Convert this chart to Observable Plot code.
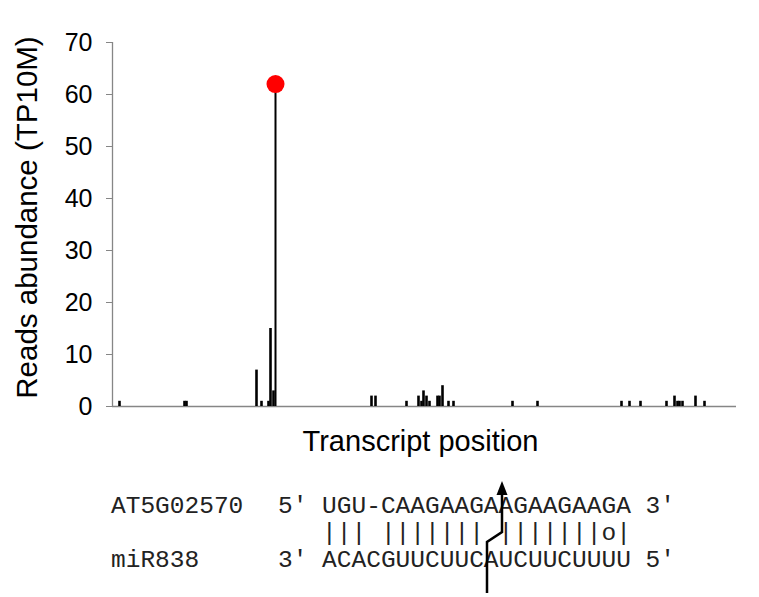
<!DOCTYPE html>
<html><head><meta charset="utf-8">
<script src="https://cdn.jsdelivr.net/npm/d3@7"></script>
<script src="https://cdn.jsdelivr.net/npm/@observablehq/plot@0.6"></script>
<style>
body{margin:0;background:#fff;}
#wrap{position:relative;width:759px;height:597px;overflow:hidden;font-family:Arial,"Liberation Sans",sans-serif;}
#chart{position:absolute;left:0;top:0;}
#align{position:absolute;left:0;top:0;}
</style></head><body>
<div id="wrap"><div id="chart"></div><svg id="align" width="759" height="597"></svg></div>
<script>
// Transcript positions (nt) of degradome read tags and their abundance (TP10M)
const positions = [14, 144, 148, 288, 298, 312, 316, 322, 518, 526, 588, 612, 618, 622, 628, 634, 650, 654, 660, 672, 682, 800, 850, 1018, 1034, 1056, 1108, 1124, 1130, 1134, 1140, 1166, 1184];
const reads =     [1,  1,   1,   7,   1,   1,   15,  3,   2,   2,   1,   2,   1,   3,   2,   1,   2,   2,   4,   1,   1,   1,   1,   1,    1,    1,    1,    2,    1,    1,    1,    2,    1];
// Cleavage-site peak
const peakPosition = [326];
const peakReads = [62];
const yTicks = [0, 10, 20, 30, 40, 50, 60, 70];
const xDomain = [0, 1248];
const yDomain = [0, 70];
const xLabel = "Transcript position";
const yLabel = "Reads abundance (TP10M)";
// Alignment
const rowNames = ["AT5G02570", "", "miR838"];
const rowSeqs = ["5' UGU-CAAGAAGAAGAAGAAGA 3'", "   ||| ||||||| |||||||o|", "3' ACACGUUCUUCAUCUUCUUUU 5'"];

const bars = positions.map((p, i) => ({position: p, reads: reads[i]}));
const peak = peakPosition.map((p, i) => ({position: p, reads: peakReads[i]}));

const chart = Plot.plot({
  width: 759, height: 470,
  marginLeft: 112, marginRight: 23, marginTop: 42, marginBottom: 64,
  style: {fontFamily: 'Arial, "Liberation Sans", sans-serif', background: "transparent", overflow: "visible", color: "#000"},
  x: {domain: xDomain, axis: null},
  y: {domain: yDomain, axis: null},
  marks: [
    Plot.ruleY([0], {stroke: "#868686", strokeWidth: 1.3}),
    Plot.ruleX([xDomain[0]], {stroke: "#868686", strokeWidth: 1.3}),
    Plot.axisY(yTicks, {tickSize: 6, tickPadding: 14, stroke: "#868686", fill: "#000", fontSize: 25, label: null}),
    Plot.ruleX(bars, {x: "position", y1: 0, y2: "reads", stroke: "#000", strokeWidth: 2.6}),
    Plot.ruleX(peak, {x: "position", y1: 0, y2: "reads", stroke: "#000", strokeWidth: 2}),
    Plot.dot(peak, {x: "position", y: "reads", r: 9, fill: "#ff0000", stroke: "none"}),
    Plot.text([xLabel], {text: d => d, frameAnchor: "bottom", textAnchor: "middle", dy: 44, dx: -4, lineAnchor: "bottom", fontSize: 29, fill: "#000"}),
    Plot.text([yLabel], {text: d => d, frameAnchor: "left", textAnchor: "middle", dx: -76, dy: -7, rotate: -90, lineAnchor: "bottom", fontSize: 29.5, fill: "#000"})
  ]
});
document.getElementById("chart").appendChild(chart);

// Alignment block
const svg = d3.select("#align");
const baselines = [513, 540, 567];
const mono = '"Courier New", "Liberation Mono", monospace';
rowNames.forEach((n, i) => {
  svg.append("text").attr("x", 111).attr("y", baselines[i]).attr("font-family", mono)
    .attr("font-size", 24.5).attr("fill", "#222").style("white-space", "pre").text(n);
  svg.append("text").attr("x", 278).attr("y", baselines[i]).attr("font-family", mono)
    .attr("font-size", 24.5).attr("fill", "#222").style("white-space", "pre").text(rowSeqs[i]);
});
// cleavage-site arrow
svg.append("path").attr("d", "M487,593 L487,542 L502,532 L502,494")
  .attr("fill", "none").attr("stroke", "#000").attr("stroke-width", 2.5);
svg.append("path").attr("d", "M502,481 L496.5,495 L507.5,495 Z").attr("fill", "#000");
</script>
</body></html>
